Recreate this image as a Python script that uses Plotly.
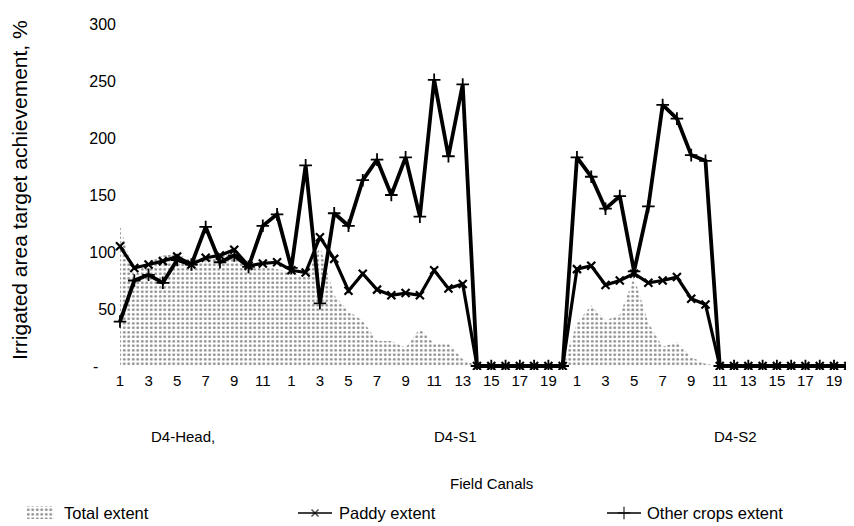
import plotly.graph_objects as go

# ---- data ----
head_n = 12
s1_n = 20
s2_n = 20

total_head = [123, 80, 92, 97, 98, 93, 95, 97, 97, 90, 88, 85]
total_s1 = [82, 78, 105, 62, 48, 40, 22, 22, 16, 33, 20, 20, 6, 0, 0, 0, 0, 0, 0, 0]
total_s2 = [38, 53, 40, 45, 78, 38, 17, 21, 8, 2, 0, 0, 0, 0, 0, 0, 0, 0, 0, 0]

paddy_head = [105, 86, 89, 92, 96, 89, 95, 97, 102, 88, 90, 91]
paddy_s1 = [84, 82, 113, 94, 66, 81, 67, 62, 64, 62, 84, 68, 72, 0, 0, 0, 0, 0, 0, 0]
paddy_s2 = [85, 88, 71, 75, 81, 73, 75, 78, 59, 54, 0, 0, 0, 0, 0, 0, 0, 0, 0, 0]

other_head = [39, 75, 80, 73, 93, 89, 122, 91, 97, 87, 123, 133]
other_s1 = [86, 176, 55, 134, 123, 163, 181, 150, 183, 131, 251, 184, 247, 0, 0, 0, 0, 0, 0, 0]
other_s2 = [183, 166, 138, 149, 83, 140, 229, 217, 185, 180, 0, 0, 0, 0, 0, 0, 0, 0, 0, 0]

group_names = ["D4-Head,", "D4-S1", "D4-S2"]
group_sizes = [head_n, s1_n, s2_n]
series_names = ["Total extent", "Paddy extent", "Other crops extent"]
y_ticks = [0, 50, 100, 150, 200, 250, 300]
y_ticktext = ["-\u00a0\u00a0\u00a0\u00a0", "50", "100", "150", "200", "250", "300"]

# ---- build category positions ----
total = total_head + total_s1 + total_s2
paddy = paddy_head + paddy_s1 + paddy_s2
other = other_head + other_s1 + other_s2
x = list(range(len(total)))

tickvals, ticktext = [], []
start = 0
for n in group_sizes:
    for k in range(1, n + 1):
        if k % 2 == 1:
            tickvals.append(start + k - 1)
            ticktext.append(str(k))
    start += n

FONT = "Arial, Liberation Sans, sans-serif"

# The page body has an 8px margin, so the figure is laid out 8px smaller
# and every page-pixel position below is shifted by OFF.
OFF = 8
PAGE_W, PAGE_H = 854, 526
W, H = PAGE_W - OFF, PAGE_H - OFF

def pxp(X):
    return (X - OFF) / W

def pyp(Y):
    return 1 - (Y - OFF) / H

PLOT_L, PLOT_R, PLOT_T, PLOT_B = 113, 854, 15, 370
PATTERN = dict(shape=".", fgcolor="#222222", bgcolor="white", size=4.5, solidity=0.33)

fig = go.Figure()
fig.add_trace(go.Scatter(
    x=x, y=total, name=series_names[0], mode="lines",
    line=dict(width=0.5, color="rgba(255,255,255,0)"),
    fill="tozeroy", fillcolor="white", fillpattern=PATTERN,
    showlegend=False, hoverinfo="skip",
))
fig.add_trace(go.Scatter(
    x=x, y=paddy, name=series_names[1], mode="lines+markers",
    line=dict(color="black", width=3.2),
    marker=dict(symbol="x-thin", size=8, line=dict(color="black", width=2.2)),
    showlegend=False,
))
fig.add_trace(go.Scatter(
    x=x, y=other, name=series_names[2], mode="lines+markers",
    line=dict(color="black", width=3.8),
    marker=dict(symbol="cross-thin", size=9, line=dict(color="black", width=1.8)),
    showlegend=False,
))

# ---- hand-built legend (symbols on an overlay axis in page pixels) ----
LEG_Y = 513
fig.add_trace(go.Scatter(
    x=[27, 54, 54, 27, 27], y=[506, 506, 519, 519, 506], xaxis="x2", yaxis="y2",
    mode="lines", line=dict(width=0, color="rgba(0,0,0,0)"),
    fill="toself", fillcolor="white", fillpattern=PATTERN,
    showlegend=False, hoverinfo="skip",
))
fig.add_trace(go.Scatter(
    x=[298, 315, 332], y=[LEG_Y, LEG_Y, LEG_Y], xaxis="x2", yaxis="y2",
    mode="lines+markers", line=dict(color="black", width=1.5),
    marker=dict(symbol="x-thin", size=[0, 7, 0], line=dict(color="black", width=1.5)),
    showlegend=False, hoverinfo="skip",
))
fig.add_trace(go.Scatter(
    x=[607, 624, 641], y=[LEG_Y, LEG_Y, LEG_Y], xaxis="x2", yaxis="y2",
    mode="lines+markers", line=dict(color="black", width=1.5),
    marker=dict(symbol="cross-thin", size=[0, 9, 0], line=dict(color="black", width=1.5)),
    showlegend=False, hoverinfo="skip",
))
for name, xl in zip(series_names, [62, 337, 645]):
    fig.add_annotation(text=name, x=pxp(xl), xref="paper", y=pyp(LEG_Y), yref="paper",
                       xanchor="left", yanchor="middle", showarrow=False,
                       font=dict(size=16.5, color="black", family=FONT))

for name, xc in zip(group_names, [183, 455, 735]):
    fig.add_annotation(text=name, x=pxp(xc), xref="paper", y=pyp(436), yref="paper",
                       xanchor="center", yanchor="middle", showarrow=False,
                       font=dict(size=15, color="black", family=FONT))

fig.add_annotation(text="Field Canals", x=pxp(491), xref="paper", y=pyp(483), yref="paper",
                   xanchor="center", yanchor="middle", showarrow=False,
                   font=dict(size=15, color="black", family=FONT))
fig.add_annotation(text="Irrigated area target achievement, %", textangle=-90,
                   x=pxp(20), xref="paper", y=pyp(190), yref="paper",
                   xanchor="center", yanchor="middle", showarrow=False,
                   font=dict(size=21, color="black", family=FONT))

fig.update_layout(
    width=W, height=H,
    margin=dict(l=0, r=0, t=0, b=0, autoexpand=False),
    paper_bgcolor="white", plot_bgcolor="rgba(0,0,0,0)",
    font=dict(family=FONT, color="black"),
    showlegend=False,
    xaxis=dict(domain=[pxp(PLOT_L), pxp(PLOT_R)], range=[-0.49, 51.4],
               tickvals=tickvals, ticktext=ticktext,
               showgrid=False, zeroline=False, showline=False, ticks="",
               tickfont=dict(size=15, color="black", family=FONT)),
    yaxis=dict(domain=[pyp(PLOT_B), pyp(PLOT_T)], range=[-3.5, 307.9],
               tickvals=y_ticks, ticktext=y_ticktext,
               showgrid=False, zeroline=False, showline=False, ticks="",
               ticklabelstandoff=-4,
               tickfont=dict(size=16, color="black", family=FONT)),
    xaxis2=dict(domain=[0, 1], range=[OFF, PAGE_W], anchor="y2", visible=False, fixedrange=True),
    yaxis2=dict(domain=[0, 1], range=[PAGE_H, OFF], anchor="x2", visible=False, fixedrange=True),
)

fig.write_html("out.html")
